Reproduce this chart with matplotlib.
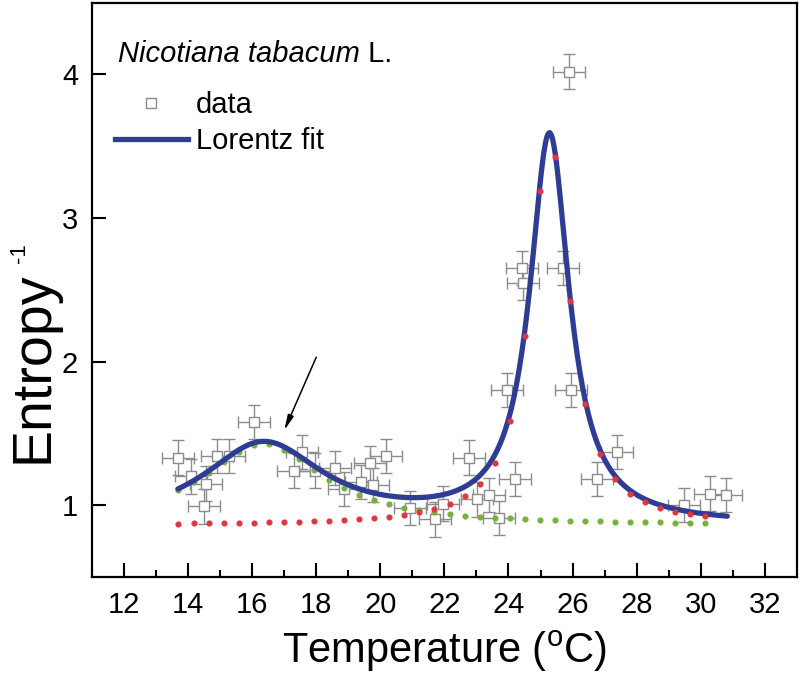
import numpy as np
import matplotlib
matplotlib.use("Agg")
import matplotlib.pyplot as plt
from matplotlib.lines import Line2D

# measured points (temperature in C, inverse entropy)
temp = [13.68, 14.08, 14.50, 14.56, 14.90, 15.28, 16.07, 17.29, 17.57, 17.97,
        18.59, 18.88, 19.40, 19.69, 19.77, 20.19, 20.92, 21.70, 21.97, 22.77,
        23.03, 23.40, 23.70, 23.96, 24.19, 24.43, 24.46, 25.71, 25.90, 25.96,
        26.77, 27.40, 29.48, 30.29, 30.80]
entropy_inv = [1.33, 1.20, 0.99, 1.15, 1.34, 1.34, 1.58, 1.24, 1.37, 1.24,
               1.26, 1.11, 1.16, 1.29, 1.14, 1.34, 0.98, 0.90, 1.01, 1.33,
               1.04, 1.07, 0.91, 1.80, 1.18, 2.65, 2.55, 2.65, 4.02, 1.80,
               1.18, 1.37, 1.00, 1.08, 1.07]
temp_err = 0.5
entropy_err = 0.12

# two-peak Lorentz fit, parameters
y0 = 0.86
peak1 = dict(xc=16.35, w=4.6, h=0.565)
peak2 = dict(xc=25.28, w=1.5, h=2.70)
fit_range = (13.68, 30.83)
comp_range = (13.70, 30.60)
comp_step = 0.47


def lorentz(x, xc, w, h):
    return h / (1 + 4 * ((x - xc) / w) ** 2)


SANS = ["Liberation Sans", "DejaVu Sans"]
plt.rcParams["font.family"] = SANS
plt.rcParams["mathtext.fontset"] = "custom"
plt.rcParams["mathtext.rm"] = "Liberation Sans"

GRAY = "#8c8c8c"
BLUE = "#2e3c94"
RED = "#e0363c"
GREEN = "#78b040"

fig = plt.figure(figsize=(8.0, 6.81), dpi=100)
ax = fig.add_axes([0.115, 0.153, 0.881, 0.843])

ax.errorbar(temp, entropy_inv, xerr=temp_err, yerr=entropy_err, fmt="s",
            mfc="white", mec=GRAY, mew=1.0, ms=7, ecolor=GRAY,
            elinewidth=1.0, capsize=4, capthick=1.0, zorder=2)

xf = np.linspace(*fit_range, 400)
xc = np.arange(comp_range[0], comp_range[1] + 1e-6, comp_step)
ax.plot(xc, y0 + lorentz(xc, **peak1), ls="none", marker="o", ms=3.4,
        color=GREEN, zorder=3)
ax.plot(xc, y0 + lorentz(xc, **peak2), ls="none", marker="o", ms=3.4,
        color=RED, zorder=5)
ax.plot(xf, y0 + lorentz(xf, **peak1) + lorentz(xf, **peak2), color=BLUE,
        lw=3.8, solid_capstyle="round", zorder=4)

ax.annotate("", xy=(17.0, 1.52), xytext=(18.0, 2.03),
            arrowprops=dict(arrowstyle="-|>,head_length=0.9,head_width=0.18",
                            color="black", lw=1.1, shrinkA=0, shrinkB=0))

ax.set_xlim(11, 33)
ax.set_ylim(0.5, 4.5)
ax.set_xticks(range(12, 33, 2))
ax.set_xticks(range(13, 33, 2), minor=True)
ax.set_yticks([1, 2, 3, 4])
ax.tick_params(axis="both", which="both", direction="in", top=False,
               right=False, width=1.5)
ax.tick_params(axis="x", which="major", length=10, pad=10, labelsize=21)
ax.tick_params(axis="x", which="minor", length=5)
ax.tick_params(axis="y", which="major", length=10, pad=10, labelsize=21)
for s in ax.spines.values():
    s.set_linewidth(1.6)

ax.set_xlabel(r"Temperature ($^{\rm o}$C)", fontsize=30, labelpad=7)
ax.set_ylabel("Entropy", fontsize=40)
ax.yaxis.set_label_coords(-0.046, 0.365)
ax.annotate("-1", xy=(0, 1), xycoords=ax.yaxis.label, xytext=(1, 6),
            textcoords="offset points", rotation=90, fontsize=16,
            ha="left", va="bottom")

t1 = ax.text(0.037, 0.897, "Nicotiana tabacum", transform=ax.transAxes,
             fontsize=21, style="italic", va="baseline")
ax.annotate(" L.", xy=(1, 0), xycoords=t1, fontsize=21, va="bottom")

handles = [Line2D([], [], ls="none", marker="s", mfc="white", mec=GRAY,
                  mew=1.0, ms=7),
           Line2D([], [], color=BLUE, lw=3.8)]
ax.legend(handles, ["data", "Lorentz fit"], loc="upper left",
          bbox_to_anchor=(0.016, 0.867), frameon=False, fontsize=21,
          handlelength=2.5, handletextpad=0.27, labelspacing=0.3,
          borderaxespad=0)

fig.savefig("out.png", dpi=100, facecolor="white")
